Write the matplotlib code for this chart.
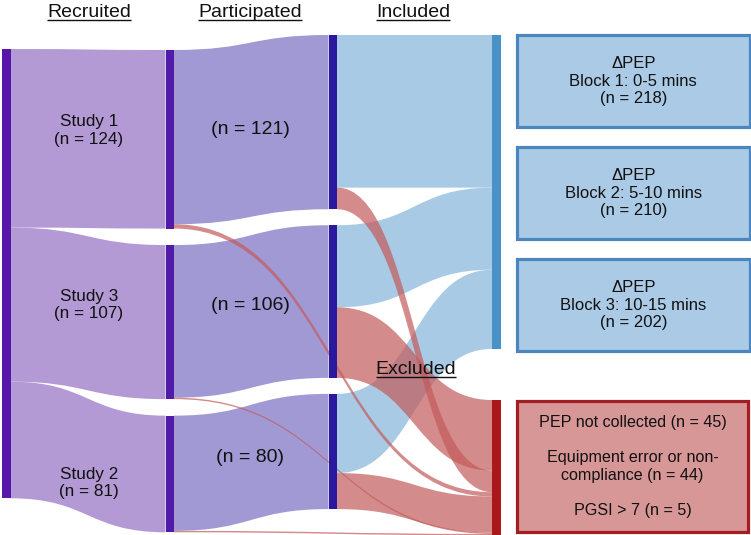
import matplotlib
matplotlib.use("Agg")
import matplotlib.pyplot as plt
from matplotlib.path import Path
from matplotlib.patches import PathPatch, Rectangle

plt.rcParams['font.family'] = ['Liberation Sans', 'DejaVu Sans']

# ---------------- data ----------------
studies = ["Study 1", "Study 3", "Study 2"]
recruited = [124, 107, 81]
participated = [121, 106, 80]
pgsi_excluded = [3, 1, 1]
included = [106, 57, 55]
excluded_after = [15, 49, 25]
headers = ["Recruited", "Participated", "Included"]
block_labels = ["Block 1: 0-5 mins", "Block 2: 5-10 mins", "Block 3: 10-15 mins"]
block_n = [218, 210, 202]
excl_reasons = ["PEP not collected", "Equipment error or non-\ncompliance", "PGSI > 7"]
excl_n = [45, 44, 5]

# ---------------- layout / style ----------------
W, H = 751, 535
S = 1.44           # px per participant
BW = 8.5           # bar width
X = [2, 165.5, 328.5, 492]   # left edge of bars per column
TOP1 = 49
TOP2, GAP2 = 50, 16.5
TOP3, GAP3 = 35, 16
TOP_INC, TOP_EXC = 35, 400

C_BAR1 = "#5718a9"
C_BAR2 = "#521aa8"
C_BAR3 = "#2a189f"
C_INC_BAR = "#4892c8"
C_EXC_BAR = "#aa181c"
C_F1 = "#b39ad5"
C_F2 = "#a099d4"
C_BLUE = "#a9cae4"
C_RED = (195/255, 90/255, 90/255)
A_RED = 0.7
TXT = "#111111"

fig = plt.figure(figsize=(W/100, H/100), dpi=100)
ax = fig.add_axes([0, 0, 1, 1])
ax.set_xlim(0, W)
ax.set_ylim(H, 0)
ax.axis('off')


def flow(x0, x1, y0t, y0b, y1t, y1b, color, alpha=1.0, z=1):
    xm = (x0 + x1) / 2
    verts = [(x0, y0t), (xm, y0t), (xm, y1t), (x1, y1t), (x1, y1b),
             (xm, y1b), (xm, y0b), (x0, y0b), (x0, y0t)]
    codes = [Path.MOVETO, Path.CURVE4, Path.CURVE4, Path.CURVE4, Path.LINETO,
             Path.CURVE4, Path.CURVE4, Path.CURVE4, Path.CLOSEPOLY]
    ax.add_patch(PathPatch(Path(verts, codes), facecolor=color, edgecolor='none',
                           alpha=alpha, zorder=z, antialiased=True))


def bar(x, y0, y1, color):
    ax.add_patch(Rectangle((x, y0), BW, y1 - y0, facecolor=color, edgecolor='none', zorder=5))


n = len(studies)
# column 2 nodes (throughput = recruited)
c2 = []
y = TOP2
for i in range(n):
    c2.append((y, y + recruited[i] * S))
    y += recruited[i] * S + GAP2
# column 3 nodes (throughput = participated)
c3 = []
y = TOP3
for i in range(n):
    c3.append((y, y + participated[i] * S))
    y += participated[i] * S + GAP3

# column 1: single node
total = sum(recruited)
bar(X[0], TOP1, TOP1 + total * S, C_BAR1)
y = TOP1
for i in range(n):
    h = recruited[i] * S
    flow(X[0] + BW, X[1], y, y + h, c2[i][0], c2[i][1], C_F1, z=1)
    y += h

# column 2 bars and flows to column 3
for i in range(n):
    bar(X[1], c2[i][0], c2[i][1], C_BAR2)
    h = participated[i] * S
    flow(X[1] + BW, X[2], c2[i][0], c2[i][0] + h, c3[i][0], c3[i][1], C_F2, z=1)

# column 4 nodes
inc_total = sum(included)
exc_total = sum(excluded_after) + sum(pgsi_excluded)
bar(X[3], TOP_INC, TOP_INC + inc_total * S, C_INC_BAR)
bar(X[3], TOP_EXC, TOP_EXC + exc_total * S, C_EXC_BAR)

# blue flows column 3 -> included
y = TOP_INC
for i in range(n):
    bar(X[2], c3[i][0], c3[i][1], C_BAR3)
    h = included[i] * S
    flow(X[2] + BW, X[3], c3[i][0], c3[i][0] + h, y, y + h, C_BLUE, z=2)
    y += h

# red flows into excluded node (arrival order top -> bottom)
arrival = [("after", 1), ("after", 0), ("pgsi", 0), ("after", 2), ("pgsi", 1), ("pgsi", 2)]
y = TOP_EXC
for kind, i in arrival:
    if kind == "after":
        h = excluded_after[i] * S
        s0 = c3[i][0] + included[i] * S
        flow(X[2] + BW, X[3], s0, s0 + h, y, y + h, C_RED, A_RED, z=3)
    else:
        h = pgsi_excluded[i] * S
        s0 = c2[i][0] + participated[i] * S
        flow(X[1] + BW, X[3], s0, s0 + h, y, y + h, C_RED, A_RED, z=3)
    y += h

# ---------------- labels ----------------
study_label_pos = [(89, 130.5), (89, 305), (89, 483)]
for i in range(n):
    ax.text(*study_label_pos[i], f"{studies[i]}\n(n = {recruited[i]})", ha='center',
            va='center', fontsize=12.3, color=TXT, zorder=10, linespacing=1.2)
part_label_pos = [(250, 130), (250, 305), (250, 458)]
for i in range(n):
    ax.text(*part_label_pos[i], f"(n = {participated[i]})", ha='center', va='center',
            fontsize=14, color=TXT, zorder=10)

underlined = []
header_x = [89, 250, 413]
for hx, t in zip(header_x, headers):
    underlined.append((ax.text(hx, 16.8, t, ha='center', va='baseline', fontsize=14,
                               color=TXT, zorder=10), 20.3))
underlined.append((ax.text(416, 373.5, "Excluded", ha='center', va='baseline', fontsize=14,
                           color=TXT, zorder=10), 377.2))

# boxes
BX0, BX1 = 517, 749.5
box_y = [(35, 127), (147, 239), (259, 351)]
for (y0, y1), bl, bn in zip(box_y, block_labels, block_n):
    ax.add_patch(Rectangle((BX0, y0), BX1 - BX0, y1 - y0, facecolor="#aacae5",
                           edgecolor="#4b87be", linewidth=2.3, zorder=6))
    ax.text((BX0 + BX1) / 2, (y0 + y1) / 2, f"\u0394PEP\n{bl}\n(n = {bn})", ha='center',
            va='center', fontsize=12, color=TXT, zorder=10, linespacing=1.2)

ry0, ry1 = 401, 532
ax.add_patch(Rectangle((BX0, ry0), 748 - BX0, ry1 - ry0, facecolor="#d89797",
                       edgecolor="#a31e23", linewidth=2.3, zorder=6))
lines = []
for k, (r, c) in enumerate(zip(excl_reasons, excl_n)):
    lines.append(f"{r} (n = {c})")
ax.text((BX0 + 748) / 2, 466.5, "\n\n".join(lines), ha='center', va='center',
        fontsize=11.6, color=TXT, zorder=10, linespacing=1.2)

# underlines
fig.canvas.draw()
r = fig.canvas.get_renderer()
inv = ax.transData.inverted()
for t, uy in underlined:
    bb = t.get_window_extent(r)
    (xa, _), (xb, _) = inv.transform([(bb.x0, bb.y0), (bb.x1, bb.y0)])
    ax.plot([xa, xb], [uy, uy], color=TXT, linewidth=1.0, zorder=10,
            solid_capstyle='butt')

fig.savefig("out.png", dpi=100)
